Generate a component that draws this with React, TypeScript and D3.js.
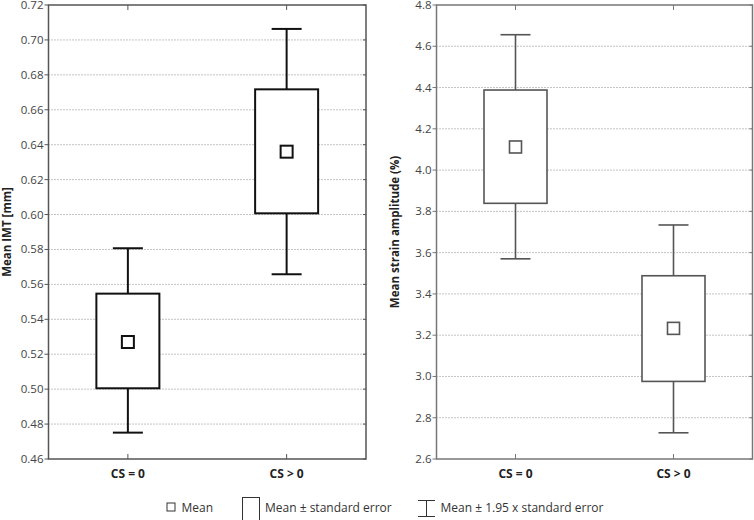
import React from "react";
import * as d3 from "d3";

const categories = ["CS = 0", "CS > 0"];
// Left panel: Mean IMT [mm]
const imtMean = [0.527, 0.636];
const imtSeLow = [0.5005, 0.6007];
const imtSeHigh = [0.5547, 0.6717];
const imtCiLow = [0.4751, 0.5658];
const imtCiHigh = [0.5807, 0.7063];
const imtTicks = [0.46, 0.48, 0.5, 0.52, 0.54, 0.56, 0.58, 0.6, 0.62, 0.64, 0.66, 0.68, 0.7, 0.72];
// Right panel: Mean strain amplitude (%)
const strainMean = [4.112, 3.233];
const strainSeLow = [3.839, 2.976];
const strainSeHigh = [4.388, 3.488];
const strainCiLow = [3.57, 2.727];
const strainCiHigh = [4.656, 3.734];
const strainTicks = [2.6, 2.8, 3.0, 3.2, 3.4, 3.6, 3.8, 4.0, 4.2, 4.4, 4.6, 4.8];

const FONT = "'Open Sans', 'Noto Sans', sans-serif";

type PanelProps = {
  x0: number;
  x1: number;
  domain: [number, number];
  ticks: number[];
  fmt: (v: number) => string;
  mean: number[];
  seLow: number[];
  seHigh: number[];
  ciLow: number[];
  ciHigh: number[];
  label: string;
  labelX: number;
  stroke: string;
  strokeW: number;
  frame: string;
};

function Panel(p: PanelProps) {
  const top = 5;
  const bottom = 459;
  const y = d3.scaleLinear().domain(p.domain).range([bottom, top]);
  const x = d3.scalePoint<string>().domain(categories).range([p.x0, p.x1]).padding(0.5);
  const boxW = 63;
  const capW = 30;
  const mk = 12;
  return (
    <g>
      {p.ticks.slice(1, -1).map((t) => (
        <line key={"g" + t} x1={p.x0} x2={p.x1} y1={y(t)} y2={y(t)} stroke="#888" strokeWidth={1} strokeDasharray="1,2" />
      ))}
      {p.ticks.map((t) => (
        <g key={"t" + t}>
          <line x1={p.x0 - 4} x2={p.x0} y1={y(t)} y2={y(t)} stroke={p.frame} strokeWidth={1} />
          <line x1={p.x1 - 3} x2={p.x1} y1={y(t)} y2={y(t)} stroke={p.frame} strokeWidth={1} />
          <text x={p.x0 - 5} y={y(t)} dy="0.35em" textAnchor="end" fontSize={11.5} fill="#444" fontFamily={FONT}>
            {p.fmt(t)}
          </text>
        </g>
      ))}
      {categories.map((c) => (
        <g key={"xt" + c}>
          <line x1={x(c)!} x2={x(c)!} y1={top} y2={top + 5} stroke={p.frame} strokeWidth={1} />
          <line x1={x(c)!} x2={x(c)!} y1={bottom} y2={bottom - 5} stroke={p.frame} strokeWidth={1} />
          <text x={x(c)!} y={bottom + 19} textAnchor="middle" fontSize={12} fontWeight="bold" fill="#222" fontFamily={FONT}>
            {c}
          </text>
        </g>
      ))}
      <rect x={p.x0} y={top} width={p.x1 - p.x0} height={bottom - top} fill="none" stroke={p.frame} strokeWidth={1.5} />
      {categories.map((c, i) => {
        const cx = x(c)!;
        return (
          <g key={"b" + c} stroke={p.stroke} strokeWidth={p.strokeW} fill="none">
            <line x1={cx} x2={cx} y1={y(p.ciHigh[i])} y2={y(p.seHigh[i])} />
            <line x1={cx} x2={cx} y1={y(p.seLow[i])} y2={y(p.ciLow[i])} />
            <line x1={cx - capW / 2} x2={cx + capW / 2} y1={y(p.ciHigh[i])} y2={y(p.ciHigh[i])} />
            <line x1={cx - capW / 2} x2={cx + capW / 2} y1={y(p.ciLow[i])} y2={y(p.ciLow[i])} />
            <rect x={cx - boxW / 2} y={y(p.seHigh[i])} width={boxW} height={y(p.seLow[i]) - y(p.seHigh[i])} fill="#fff" />
            <rect x={cx - mk / 2} y={y(p.mean[i]) - mk / 2} width={mk} height={mk} fill="#fff" />
          </g>
        );
      })}
      <text
        transform={`translate(${p.labelX},${(top + bottom) / 2}) rotate(-90)`}
        textAnchor="middle"
        fontSize={11.5}
        fontWeight="bold"
        fill="#222"
        fontFamily={FONT}
      >
        {p.label}
      </text>
    </g>
  );
}

export default function App() {
  return (
    <svg width={754} height={520} style={{ position: "absolute", left: 0, top: 0, background: "#fff" }}>
      <rect x={0} y={0} width={754} height={520} fill="#fff" />
      <Panel
        x0={48.5}
        x1={366}
        domain={[0.46, 0.72]}
        ticks={imtTicks}
        fmt={d3.format(".2f")}
        mean={imtMean}
        seLow={imtSeLow}
        seHigh={imtSeHigh}
        ciLow={imtCiLow}
        ciHigh={imtCiHigh}
        label="Mean IMT [mm]"
        labelX={11}
        stroke="#111"
        strokeW={2}
        frame="#555"
      />
      <Panel
        x0={436.5}
        x1={752.5}
        domain={[2.6, 4.8]}
        ticks={strainTicks}
        fmt={d3.format(".1f")}
        mean={strainMean}
        seLow={strainSeLow}
        seHigh={strainSeHigh}
        ciLow={strainCiLow}
        ciHigh={strainCiHigh}
        label="Mean strain amplitude (%)"
        labelX={399}
        stroke="#555"
        strokeW={1.6}
        frame="#777"
      />
      <g fontFamily={FONT} fontSize={12} fill="#333">
        <rect x={167} y={503} width={8} height={8} fill="#fff" stroke="#333" strokeWidth={1} />
        <text x={181.5} y={511.5}>Mean</text>
        <rect x={242.5} y={497.5} width={17} height={23} fill="#fff" stroke="#333" strokeWidth={1} />
        <text x={265} y={511.5}>Mean ± standard error</text>
        <g stroke="#333" strokeWidth={1}>
          <line x1={418} x2={435} y1={500.5} y2={500.5} />
          <line x1={418} x2={435} y1={516.5} y2={516.5} />
          <line x1={426.5} x2={426.5} y1={500.5} y2={516.5} />
        </g>
        <text x={440.5} y={511.5}>Mean ± 1.95 x standard error</text>
      </g>
    </svg>
  );
}
